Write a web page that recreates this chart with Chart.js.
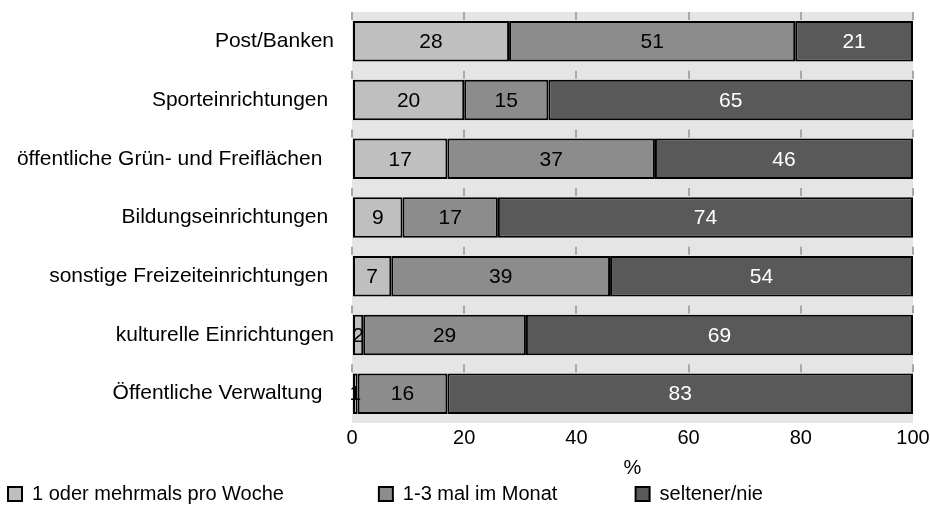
<!DOCTYPE html>
<html>
<head>
<meta charset="utf-8">
<script src="https://cdn.jsdelivr.net/npm/chart.js@4"></script>
<style>
  html, body { margin: 0; padding: 0; background: #fff; }
  #wrap { width: 930px; height: 508px; }
</style>
</head>
<body>
<div id="wrap"><canvas id="chart" width="930" height="508"></canvas></div>
<script>
const categories = [
    "Post/Banken",
    "Sporteinrichtungen ",
    "öffentliche Grün- und Freiflächen  ",
    "Bildungseinrichtungen ",
    "sonstige Freizeiteinrichtungen ",
    "kulturelle Einrichtungen",
    "Öffentliche Verwaltung  "
];
const weekly = [28, 20, 17, 9, 7, 2, 1];
const monthly = [51, 15, 37, 17, 39, 29, 16];
const rarely = [21, 65, 46, 74, 54, 69, 83];
const seriesNames = ["1 oder mehrmals pro Woche", "1-3 mal im Monat", "seltener/nie"];
const xTicks = [0, 20, 40, 60, 80, 100];

const FONT = "Liberation Sans, Arial, sans-serif";

// grey plot background
const plotBg = {
    id: 'plotBg',
    beforeDraw(chart) {
        const { ctx, chartArea: a } = chart;
        ctx.save();
        ctx.fillStyle = '#e5e5e5';
        ctx.fillRect(a.left, a.top, a.right - a.left, a.bottom - a.top);
        ctx.restore();
    }
};

// value labels in the middle of each segment
const valueLabels = {
    id: 'valueLabels',
    afterDatasetsDraw(chart) {
        const ctx = chart.ctx;
        ctx.save();
        ctx.font = '21px ' + FONT;
        ctx.textAlign = 'center';
        ctx.textBaseline = 'middle';
        chart.data.datasets.forEach((ds, i) => {
            chart.getDatasetMeta(i).data.forEach((bar, j) => {
                const x = (bar.x + bar.base) / 2;
                ctx.fillStyle = i === 2 ? '#ffffff' : '#000000';
                ctx.fillText(String(ds.data[j]), x, bar.y + 1);
            });
        });
        ctx.restore();
    }
};

new Chart(document.getElementById('chart'), {
    type: 'bar',
    data: {
        labels: categories,
        datasets: [
            { label: seriesNames[0] + ' '.repeat(16), data: weekly, backgroundColor: '#bfbfbf' },
            { label: seriesNames[1] + ' '.repeat(13), data: monthly, backgroundColor: '#8c8c8c' },
            { label: seriesNames[2], data: rarely, backgroundColor: '#595959' }
        ].map(d => Object.assign(d, {
            borderColor: '#000000',
            borderWidth: 2,
            borderSkipped: false,
            barPercentage: 0.69,
            categoryPercentage: 1
        }))
    },
    options: {
        indexAxis: 'y',
        responsive: false,
        animation: false,
        layout: { padding: { top: 12, right: 17, left: 2, bottom: -6 } },
        plugins: {
            legend: {
                position: 'bottom',
                align: 'start',
                labels: {
                    boxWidth: 14,
                    boxHeight: 14,
                    padding: 6,
                    color: '#000',
                    font: { size: 20, family: FONT }
                }
            },
            tooltip: { enabled: false }
        },
        scales: {
            x: {
                stacked: true,
                min: 0,
                max: 100,
                afterBuildTicks(scale) { scale.ticks = xTicks.map(v => ({ value: v })); },
                afterFit(scale) {
                    scale.height = 55;
                    scale.paddingLeft = 0;
                    scale.paddingRight = 0;
                },
                grid: {
                    color: '#a8a8a8',
                    lineWidth: 2,
                    drawTicks: false
                },
                border: { display: false, dash: [8, 50.7] },
                ticks: { color: '#000', padding: 3, font: { size: 20, family: FONT } },
                title: {
                    display: true,
                    text: '%',
                    color: '#000',
                    padding: { top: 0, bottom: -2 },
                    font: { size: 20, family: FONT }
                }
            },
            y: {
                stacked: true,
                grid: { display: false, drawTicks: false },
                border: { display: false },
                afterFit(scale) {
                    scale.width = 350;
                    scale.paddingTop = 0;
                    scale.paddingBottom = 0;
                },
                ticks: { color: '#000', padding: 18, font: { size: 21, family: FONT } }
            }
        }
    },
    plugins: [plotBg, valueLabels]
});
</script>
</body>
</html>
